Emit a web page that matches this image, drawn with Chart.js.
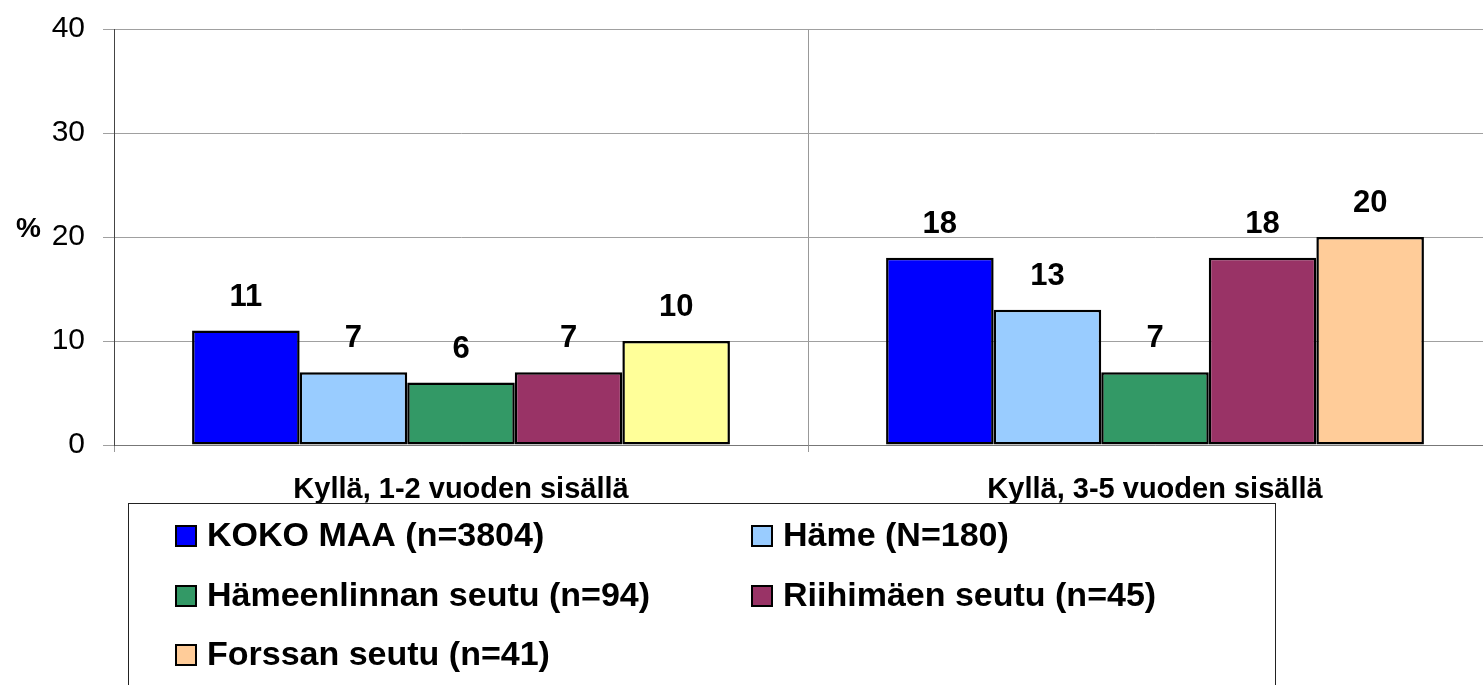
<!DOCTYPE html>
<html lang="fi">
<head>
    <meta charset="UTF-8">
    <title>Kyllä-vastaukset</title>
    <style>
        html, body {
            margin: 0;
            padding: 0;
            background: #fff;
            overflow: hidden;
        }

        #wrap {
            width: 1510px;
            height: 685px;
        }
    </style>
</head>
<body>
    <div id="wrap">
        <canvas id="chart" width="1510" height="685"></canvas>
    </div>

    <script src="https://cdn.jsdelivr.net/npm/chart.js"></script>
    <script>
        // data
        const categories = ['Kyllä, 1-2 vuoden sisällä', 'Kyllä, 3-5 vuoden sisällä'];
        const seriesNames = ['KOKO MAA (n=3804)', 'Häme (N=180)', 'Hämeenlinnan seutu (n=94)', 'Riihimäen seutu (n=45)', 'Forssan seutu (n=41)'];
        const kokoMaa = [11, 18];
        const hame = [7, 13];
        const hameenlinna = [6, 7];
        const riihimaki = [7, 18];
        const forssa = [10, 20];
        const yTicks = [0, 10, 20, 30, 40];

        const FONT = 'Arial, "Liberation Sans", sans-serif';

        const datasets = [
            { label: seriesNames[0], data: kokoMaa, backgroundColor: '#0000FF', legendColor: '#0000FF' },
            { label: seriesNames[1], data: hame, backgroundColor: '#99CCFF', legendColor: '#99CCFF' },
            { label: seriesNames[2], data: hameenlinna, backgroundColor: '#339966', legendColor: '#339966' },
            { label: seriesNames[3], data: riihimaki, backgroundColor: '#993366', legendColor: '#993366' },
            // first group is drawn yellow in the original, second one peach
            { label: seriesNames[4], data: forssa, backgroundColor: ['#FFFF99', '#FFCC99'], legendColor: '#FFCC99' }
        ].map(d => Object.assign(d, { borderColor: '#000', borderWidth: 2.5, borderSkipped: false }));

        // numbers above the bars
        const valueLabels = {
            id: 'valueLabels',
            afterDatasetsDraw(chart) {
                const ctx = chart.ctx;
                ctx.save();
                ctx.font = 'bold 31px ' + FONT;
                ctx.fillStyle = '#000';
                ctx.textAlign = 'center';
                ctx.textBaseline = 'alphabetic';
                chart.data.datasets.forEach((ds, i) => {
                    chart.getDatasetMeta(i).data.forEach((bar, j) => {
                        ctx.fillText(String(ds.data[j]), bar.x, bar.y - 25);
                    });
                });
                ctx.restore();
            }
        };

        // "%" next to the 20 tick
        const percentLabel = {
            id: 'percentLabel',
            afterDraw(chart) {
                const ctx = chart.ctx;
                const y = chart.scales.y.getPixelForValue(20);
                ctx.save();
                ctx.font = 'bold 28px ' + FONT;
                ctx.fillStyle = '#000';
                ctx.textAlign = 'left';
                ctx.textBaseline = 'middle';
                ctx.fillText('%', 16, y - 8);
                ctx.restore();
            }
        };

        // boxed legend below the axis, two columns
        const boxLegend = {
            id: 'boxLegend',
            afterDraw(chart) {
                const ctx = chart.ctx;
                ctx.save();
                ctx.strokeStyle = '#222';
                ctx.lineWidth = 1;
                ctx.strokeRect(128.5, 503.5, 1147, 220);

                const colX = [176, 752];
                const rowY = [536, 596, 655];
                ctx.font = 'bold 34px ' + FONT;
                ctx.textBaseline = 'middle';
                ctx.textAlign = 'left';
                chart.data.datasets.forEach((ds, i) => {
                    const x = colX[i % 2];
                    const y = rowY[Math.floor(i / 2)];
                    ctx.fillStyle = ds.legendColor;
                    ctx.fillRect(x, y - 10, 20, 20);
                    ctx.lineWidth = 2;
                    ctx.strokeStyle = '#000';
                    ctx.strokeRect(x, y - 10, 20, 20);
                    ctx.fillStyle = '#000';
                    ctx.fillText(ds.label, x + 31, y + 1);
                });
                ctx.restore();
            }
        };

        new Chart(document.getElementById('chart'), {
            type: 'bar',
            data: { labels: categories, datasets: datasets },
            options: {
                responsive: false,
                animation: false,
                layout: { padding: { top: 29, right: 8, bottom: 0, left: 0 } },
                categoryPercentage: 0.775,
                barPercentage: 1.0,
                plugins: {
                    legend: { display: false },
                    tooltip: { enabled: false }
                },
                scales: {
                    x: {
                        afterFit(scale) { scale.height = 240; },
                        grid: { color: '#999', lineWidth: 1, tickLength: 7, offset: true },
                        border: { color: '#777', width: 1 },
                        ticks: {
                            color: '#000',
                            font: { family: FONT, size: 29, weight: 'bold' },
                            padding: 21,
                            maxRotation: 0
                        }
                    },
                    y: {
                        min: 0,
                        max: 40,
                        afterFit(scale) {
                            scale.width = 114;
                            scale.paddingTop = 0;
                            scale.paddingBottom = 0;
                        },
                        afterBuildTicks(scale) { scale.ticks = yTicks.map(v => ({ value: v })); },
                        grid: { color: '#a0a0a0', lineWidth: 1, tickLength: 11 },
                        border: { color: '#444', width: 1 },
                        ticks: {
                            color: '#000',
                            font: { family: FONT, size: 30 },
                            padding: 18
                        }
                    }
                }
            },
            plugins: [valueLabels, percentLabel, boxLegend]
        });
    </script>
</body>
</html>
